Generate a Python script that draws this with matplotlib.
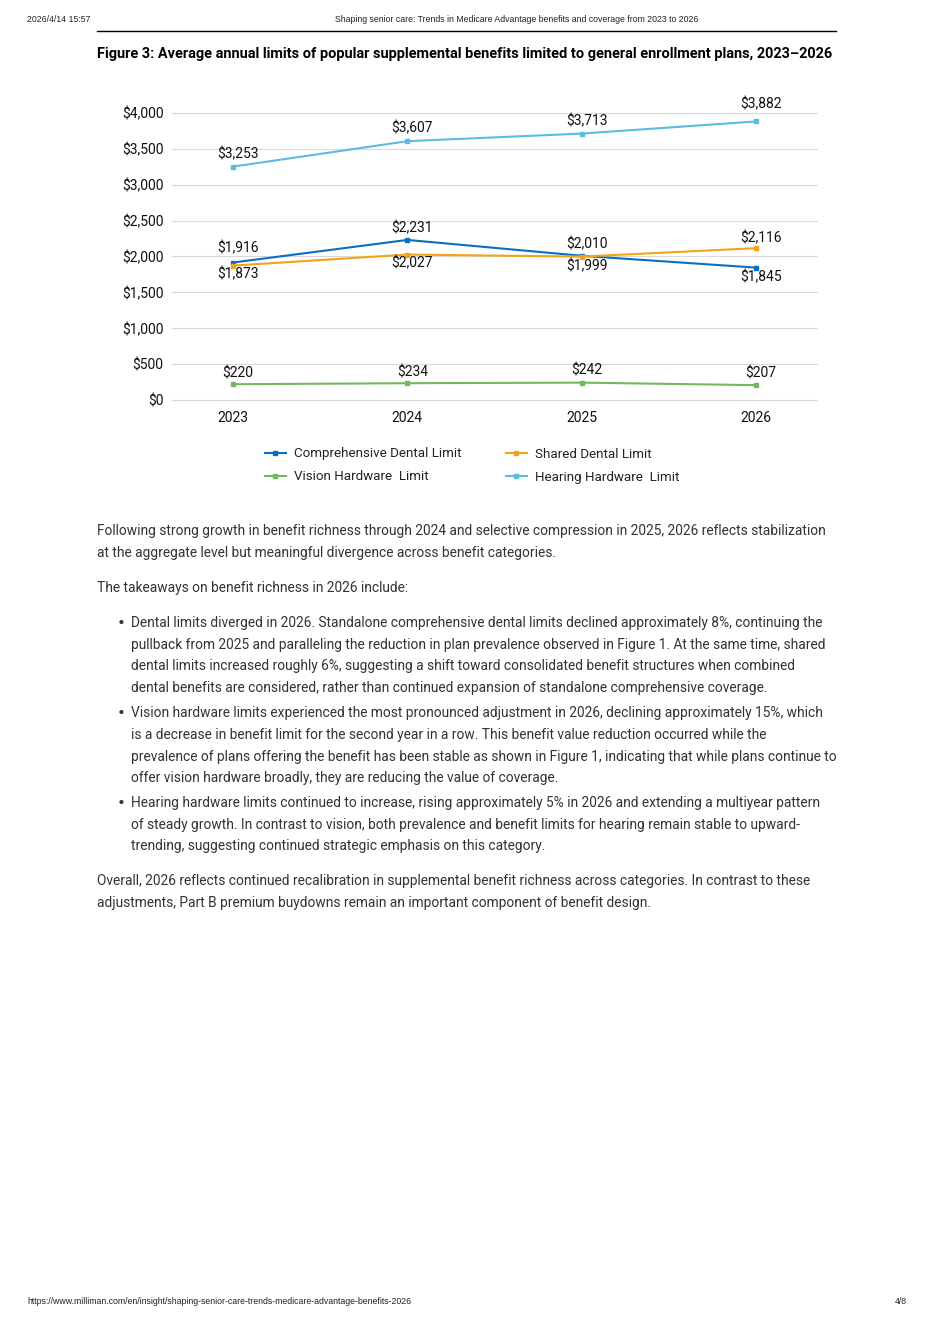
import matplotlib
matplotlib.use("Agg")
import matplotlib.pyplot as plt
from matplotlib.lines import Line2D

# ---------------- data ----------------
years = ["2023", "2024", "2025", "2026"]
series_names = ["Comprehensive Dental Limit", "Shared Dental Limit",
                "Vision Hardware  Limit", "Hearing Hardware  Limit"]
comprehensive_dental = [1916, 2231, 2010, 1845]
shared_dental = [1873, 2027, 1999, 2116]
vision_hardware = [220, 234, 242, 207]
hearing_hardware = [3253, 3607, 3713, 3882]
y_ticks = [0, 500, 1000, 1500, 2000, 2500, 3000, 3500, 4000]

# ---------------- styles ----------------
colors = ["#0a6fc2", "#f2a31b", "#72b85e", "#5bbbe0"]
# label vertical offsets in pixels (+ above, - below)
label_dy = [
    [14, 12, 12, -10],
    [-9, -9, -10, 10],
    [11, 11, 12, 12],
    [12, 13, 12, 17],
]

W, H = 936, 1324
DPI = 100
fig = plt.figure(figsize=(W / DPI, H / DPI), dpi=DPI)
fig.patch.set_facecolor("white")
renderer = fig.canvas.get_renderer()

FONT = "Roboto"
TXT = "#333333"


def fx(px):
    return px / W


def fy(py):
    return 1 - py / H


def fitted_size(text, target_px, family, weight="normal", base=10):
    t = fig.text(0, 0, text, fontsize=base, family=family, weight=weight)
    w = t.get_window_extent(renderer=renderer).width
    t.remove()
    return base * target_px / w


# ---------------- header / footer ----------------
hdr_title = "Shaping senior care: Trends in Medicare Advantage benefits and coverage from 2023 to 2026"
hs = fitted_size(hdr_title, 368, "Liberation Sans")
fig.text(fx(27), fy(20), "2026/4/14 15:57", fontsize=hs, family="Liberation Sans", va="center", color="#222222")
fig.text(fx(517), fy(20), hdr_title, fontsize=hs, family="Liberation Sans", va="center", ha="center", color="#222222")
fig.add_artist(Line2D([fx(97), fx(836)], [fy(31), fy(31)], color="black", lw=1.0))
fig.text(fx(27), fy(1302), "https://www.milliman.com/en/insight/shaping-senior-care-trends-medicare-advantage-benefits-2026",
         fontsize=hs, family="Liberation Sans", va="center", color="#222222")
fig.text(fx(907), fy(1302), "4/8", fontsize=hs, family="Liberation Sans", va="center", ha="right", color="#222222")

# ---------------- title ----------------
title = "Figure 3: Average annual limits of popular supplemental benefits limited to general enrollment plans, 2023\u20132026"
ts = fitted_size(title, 738, "Roboto", weight="bold")
fig.text(fx(97), fy(54), title, fontsize=ts, family="Roboto", weight="bold", va="center", color="black")

# ---------------- chart ----------------
left, right, top, bottom = 172, 817, 113, 400
ax = fig.add_axes([fx(left), fy(bottom), fx(right - left), (bottom - top) / H])
ax.set_xlim(-0.35, 3.35)
ax.set_ylim(0, 4000)
x = list(range(len(years)))
all_series = [comprehensive_dental, shared_dental, vision_hardware, hearing_hardware]
handles = []
for vals, c, name, dys in zip(all_series, colors, series_names, label_dy):
    h, = ax.plot(x, vals, color=c, lw=1.5, marker="s", markersize=3.2, label=name, zorder=3)
    handles.append(h)
    for xi, v, dy in zip(x, vals, dys):
        ax.annotate(f"${v:,}", (xi, v), xytext=(3.6, dy * 72 / DPI), textcoords="offset points",
                    ha="center", va="center", fontsize=10, family=FONT, color="#111111",
                    annotation_clip=False)
ax.set_yticks(y_ticks)
ax.set_yticklabels([f"${v:,}" for v in y_ticks])
ax.set_xticks(x)
ax.set_xticklabels(years)
ax.yaxis.grid(True, color="#d9d9d9", lw=0.8)
for gl in ax.get_ygridlines():
    gl.set_clip_on(False)
ax.set_axisbelow(True)
for s in ax.spines.values():
    s.set_visible(False)
ax.tick_params(axis="both", length=0, labelsize=10, labelcolor="#111111")
ax.tick_params(axis="y", pad=6)
ax.tick_params(axis="x", pad=8)
for lab in ax.get_xticklabels() + ax.get_yticklabels():
    lab.set_family(FONT)

# row-major legend order: (comp, shared) / (vision, hearing)
order = [0, 2, 1, 3]
leg = fig.legend([handles[i] for i in order], [series_names[i] for i in order], ncol=2, loc="center",
                 bbox_to_anchor=(fx(472), fy(465.5)),
                 frameon=False, prop={"family": FONT, "size": 9.6}, handlelength=1.6,
                 columnspacing=3.3, labelspacing=0.75, handletextpad=0.6)
for t in leg.get_texts():
    t.set_color("#222222")

# ---------------- body text ----------------
body_lines = [
    (97, 531, "Following strong growth in benefit richness through 2024 and selective compression in 2025, 2026 reflects stabilization"),
    (97, 553, "at the aggregate level but meaningful divergence across benefit categories."),
    (97, 588, "The takeaways on benefit richness in 2026 include:"),
    (131, 623, "Dental limits diverged in 2026. Standalone comprehensive dental limits declined approximately 8%, continuing the"),
    (131, 645, "pullback from 2025 and paralleling the reduction in plan prevalence observed in Figure 1. At the same time, shared"),
    (131, 666, "dental limits increased roughly 6%, suggesting a shift toward consolidated benefit structures when combined"),
    (131, 688, "dental benefits are considered, rather than continued expansion of standalone comprehensive coverage."),
    (131, 713, "Vision hardware limits experienced the most pronounced adjustment in 2026, declining approximately 15%, which"),
    (131, 735, "is a decrease in benefit limit for the second year in a row. This benefit value reduction occurred while the"),
    (131, 757, "prevalence of plans offering the benefit has been stable as shown in Figure 1, indicating that while plans continue to"),
    (131, 778, "offer vision hardware broadly, they are reducing the value of coverage."),
    (131, 803, "Hearing hardware limits continued to increase, rising approximately 5% in 2026 and extending a multiyear pattern"),
    (131, 825, "of steady growth. In contrast to vision, both prevalence and benefit limits for hearing remain stable to upward-"),
    (131, 846, "trending, suggesting continued strategic emphasis on this category."),
    (97, 881, "Overall, 2026 reflects continued recalibration in supplemental benefit richness across categories. In contrast to these"),
    (97, 903, "adjustments, Part B premium buydowns remain an important component of benefit design."),
]
bs = fitted_size(body_lines[0][2], 728, FONT)
for xp, yp, s in body_lines:
    fig.text(fx(xp), fy(yp), s, fontsize=bs, family=FONT, va="center", color=TXT)
for yp in (623, 713, 803):
    fig.text(fx(118), fy(yp), "\u2022", fontsize=bs * 1.5, family=FONT, va="center", color=TXT)

fig.savefig("out.png", dpi=DPI, facecolor="white")
